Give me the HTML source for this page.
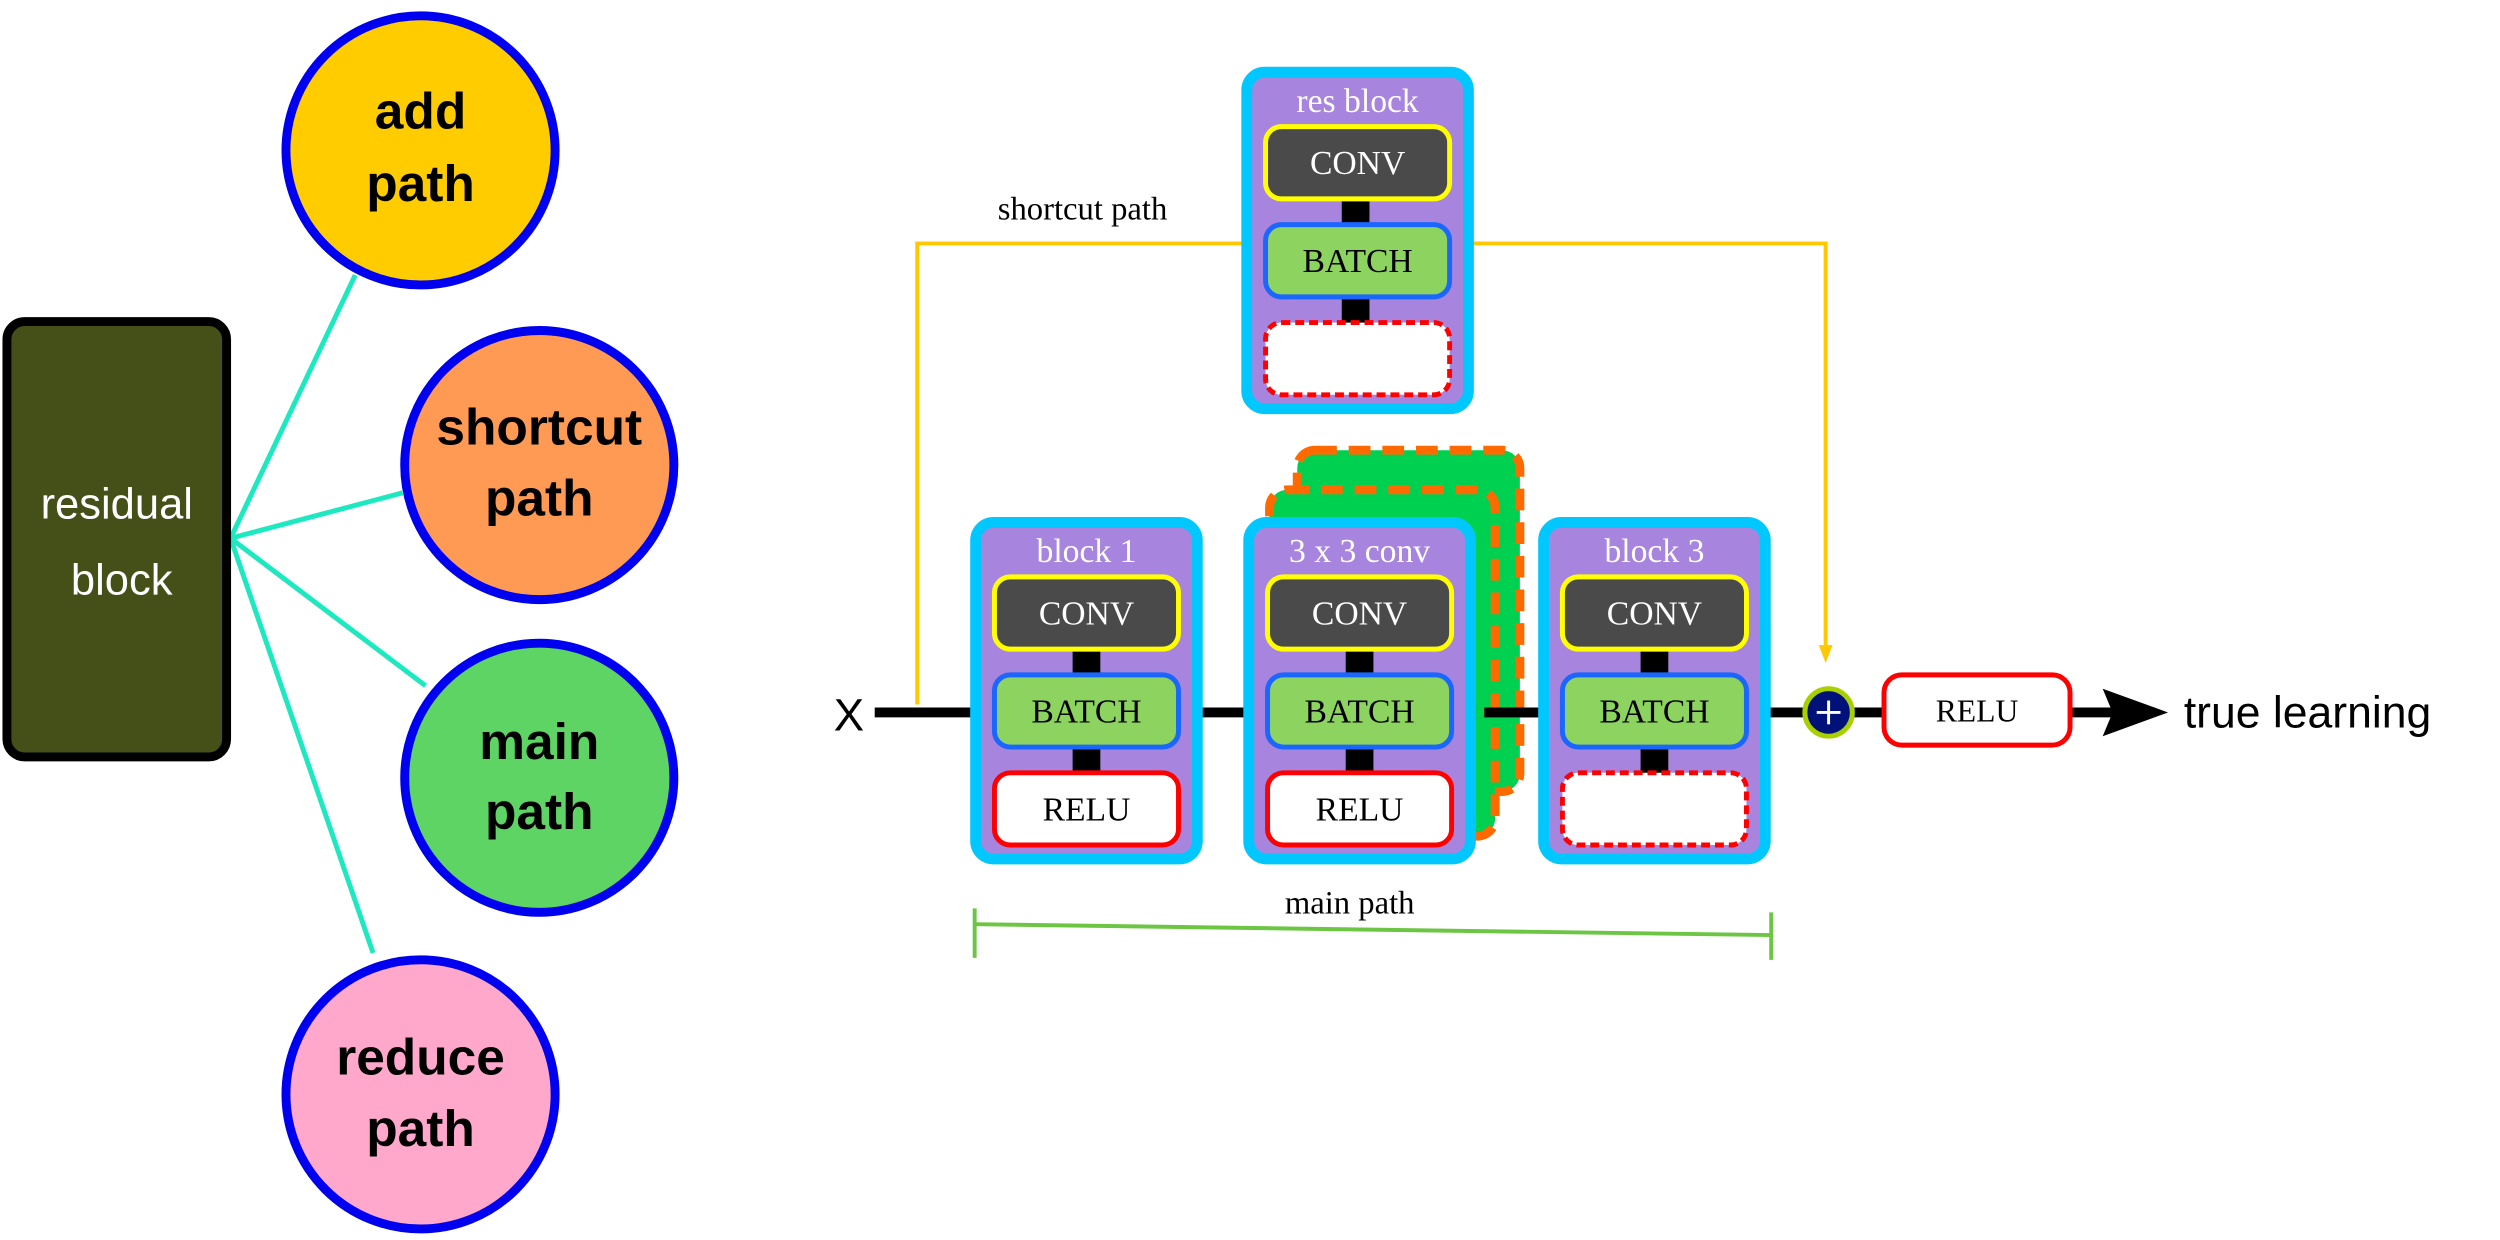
<!DOCTYPE html>
<html><head><meta charset="utf-8"><style>
html,body{margin:0;padding:0;background:#fff;width:2500px;height:1240px;overflow:hidden}
svg{display:block}
.serif{font-family:"Liberation Serif",serif}
.sans{font-family:"Liberation Sans","DejaVu Sans",sans-serif}
</style></head><body>
<svg width="2500" height="1240" viewBox="0 0 2500 1240" xmlns="http://www.w3.org/2000/svg">
<g transform="scale(0.9895)">
<!-- left mind map -->
<g stroke="#1de9c0" stroke-width="5">
<line x1="233" y1="544" x2="359" y2="278"/>
<line x1="233" y1="544" x2="407" y2="498"/>
<line x1="233" y1="544" x2="430" y2="693"/>
<line x1="233" y1="544" x2="377" y2="963"/>
</g>
<rect x="7" y="325" width="222" height="440" rx="18" fill="#454f18" stroke="#000" stroke-width="9"/>
<text x="118" y="524" text-anchor="middle" class="sans" font-size="44" fill="#fff">residual</text>
<text x="123" y="601" text-anchor="middle" class="sans" font-size="44" fill="#fff">block</text>
<g stroke="#0000f0" stroke-width="9">
<circle cx="425" cy="152" r="136" fill="#ffcc00"/>
<circle cx="545" cy="470" r="136" fill="#ff9a55"/>
<circle cx="545" cy="786" r="136" fill="#5dd463"/>
<circle cx="425" cy="1106" r="136" fill="#ffa8cc"/>
</g>
<g class="sans" font-weight="bold" font-size="52" text-anchor="middle" fill="#000">
<text x="425" y="130">add</text><text x="425" y="203">path</text>
<text x="545" y="449">shortcut</text><text x="545" y="521">path</text>
<text x="545" y="767">main</text><text x="545" y="838">path</text>
<text x="425" y="1086">reduce</text><text x="425" y="1158">path</text>
</g>

<!-- shortcut path -->
<polyline points="927,712 927,246 1260,246" fill="none" stroke="#ffc800" stroke-width="4"/>
<polyline points="1486,246 1845,246 1845,655" fill="none" stroke="#ffc800" stroke-width="4"/>
<polygon points="1838,652 1852,652 1845,670" fill="#ffc800"/>
<text x="1094" y="222" text-anchor="middle" class="serif" font-size="33" fill="#000">shortcut path</text>

<!-- main line -->
<line x1="884" y1="720" x2="1835" y2="720" stroke="#000" stroke-width="10"/>
<line x1="1870" y1="720" x2="2150" y2="720" stroke="#000" stroke-width="10"/>
<text x="858" y="738" text-anchor="middle" class="sans" font-size="46" fill="#000">X</text>
<polygon points="2125,696 2191,720 2125,744 2135,720" fill="#000"/>

<!-- stacked green layers behind 3x3 -->
<rect x="1311" y="455" width="225" height="345" rx="18" fill="#00d050" stroke="#ff6a00" stroke-width="9" stroke-dasharray="22,12"/>
<rect x="1283" y="495" width="228" height="350" rx="18" fill="#00d050" stroke="#ff6a00" stroke-width="9" stroke-dasharray="22,12"/>

<g>
<rect x="1260" y="73" width="224" height="340" rx="18" fill="#a785de" stroke="#00c8ff" stroke-width="11"/>
<text x="1372" y="113" text-anchor="middle" class="serif" font-size="34" fill="#fff">res block</text>
<rect x="1356" y="200" width="28" height="30" fill="#000"/><rect x="1356" y="300" width="28" height="30" fill="#000"/>
<rect x="1279" y="128" width="186" height="73" rx="16" fill="#4a4a4a" stroke="#ffff00" stroke-width="5"/>
<text x="1372" y="176" text-anchor="middle" class="serif" font-size="34" fill="#fff">CONV</text>
<rect x="1279" y="227" width="186" height="73" rx="16" fill="#8cd35f" stroke="#1a66ff" stroke-width="5"/>
<text x="1372" y="275" text-anchor="middle" class="serif" font-size="34" fill="#000">BATCH</text>
<rect x="1279" y="326" width="186" height="73" rx="16" fill="#fff" stroke="#ff0000" stroke-width="5" stroke-dasharray="9,5"/>
</g>

<g>
<rect x="986" y="528" width="224" height="340" rx="18" fill="#a785de" stroke="#00c8ff" stroke-width="11"/>
<text x="1098" y="568" text-anchor="middle" class="serif" font-size="34" fill="#fff">block 1</text>
<rect x="1084" y="655" width="28" height="30" fill="#000"/><rect x="1084" y="755" width="28" height="30" fill="#000"/>
<rect x="1005" y="583" width="186" height="73" rx="16" fill="#4a4a4a" stroke="#ffff00" stroke-width="5"/>
<text x="1098" y="631" text-anchor="middle" class="serif" font-size="34" fill="#fff">CONV</text>
<rect x="1005" y="682" width="186" height="73" rx="16" fill="#8cd35f" stroke="#1a66ff" stroke-width="5"/>
<text x="1098" y="730" text-anchor="middle" class="serif" font-size="34" fill="#000">BATCH</text>
<rect x="1005" y="781" width="186" height="73" rx="16" fill="#fff" stroke="#ff0000" stroke-width="5"/>
<text x="1098" y="829" text-anchor="middle" class="serif" font-size="34" fill="#000">RELU</text>
</g>

<g>
<rect x="1262" y="528" width="224" height="340" rx="18" fill="#a785de" stroke="#00c8ff" stroke-width="11"/>
<text x="1374" y="568" text-anchor="middle" class="serif" font-size="34" fill="#fff">3 x 3 conv</text>
<rect x="1360" y="655" width="28" height="30" fill="#000"/><rect x="1360" y="755" width="28" height="30" fill="#000"/>
<rect x="1281" y="583" width="186" height="73" rx="16" fill="#4a4a4a" stroke="#ffff00" stroke-width="5"/>
<text x="1374" y="631" text-anchor="middle" class="serif" font-size="34" fill="#fff">CONV</text>
<rect x="1281" y="682" width="186" height="73" rx="16" fill="#8cd35f" stroke="#1a66ff" stroke-width="5"/>
<text x="1374" y="730" text-anchor="middle" class="serif" font-size="34" fill="#000">BATCH</text>
<rect x="1281" y="781" width="186" height="73" rx="16" fill="#fff" stroke="#ff0000" stroke-width="5"/>
<text x="1374" y="829" text-anchor="middle" class="serif" font-size="34" fill="#000">RELU</text>
</g>
<line x1="1500" y1="720" x2="1555" y2="720" stroke="#000" stroke-width="10"/>

<g>
<rect x="1560" y="528" width="224" height="340" rx="18" fill="#a785de" stroke="#00c8ff" stroke-width="11"/>
<text x="1672" y="568" text-anchor="middle" class="serif" font-size="34" fill="#fff">block 3</text>
<rect x="1658" y="655" width="28" height="30" fill="#000"/><rect x="1658" y="755" width="28" height="30" fill="#000"/>
<rect x="1579" y="583" width="186" height="73" rx="16" fill="#4a4a4a" stroke="#ffff00" stroke-width="5"/>
<text x="1672" y="631" text-anchor="middle" class="serif" font-size="34" fill="#fff">CONV</text>
<rect x="1579" y="682" width="186" height="73" rx="16" fill="#8cd35f" stroke="#1a66ff" stroke-width="5"/>
<text x="1672" y="730" text-anchor="middle" class="serif" font-size="34" fill="#000">BATCH</text>
<rect x="1579" y="781" width="186" height="73" rx="16" fill="#fff" stroke="#ff0000" stroke-width="5" stroke-dasharray="9,5"/>
</g>

<!-- add node -->
<circle cx="1848" cy="720" r="24" fill="#00127a" stroke="#a8d000" stroke-width="5"/>
<line x1="1836" y1="720" x2="1860" y2="720" stroke="#fff" stroke-width="3"/>
<line x1="1848" y1="708" x2="1848" y2="732" stroke="#fff" stroke-width="3"/>

<rect x="1904" y="682" width="188" height="71" rx="18" fill="#fff" stroke="#ff0000" stroke-width="5"/>
<text x="1998" y="729" text-anchor="middle" class="serif" font-size="32" fill="#000">RELU</text>
<text x="2207" y="735" class="sans" font-size="45" fill="#000">true learning</text>

<!-- main path bracket -->
<line x1="985" y1="934" x2="1790" y2="945" stroke="#6cc644" stroke-width="4"/>
<line x1="985" y1="918" x2="985" y2="968" stroke="#6cc644" stroke-width="4"/>
<line x1="1790" y1="922" x2="1790" y2="970" stroke="#6cc644" stroke-width="4"/>
<text x="1364" y="923" text-anchor="middle" class="serif" font-size="33" fill="#000">main path</text>
</g>
</svg>
</body></html>
